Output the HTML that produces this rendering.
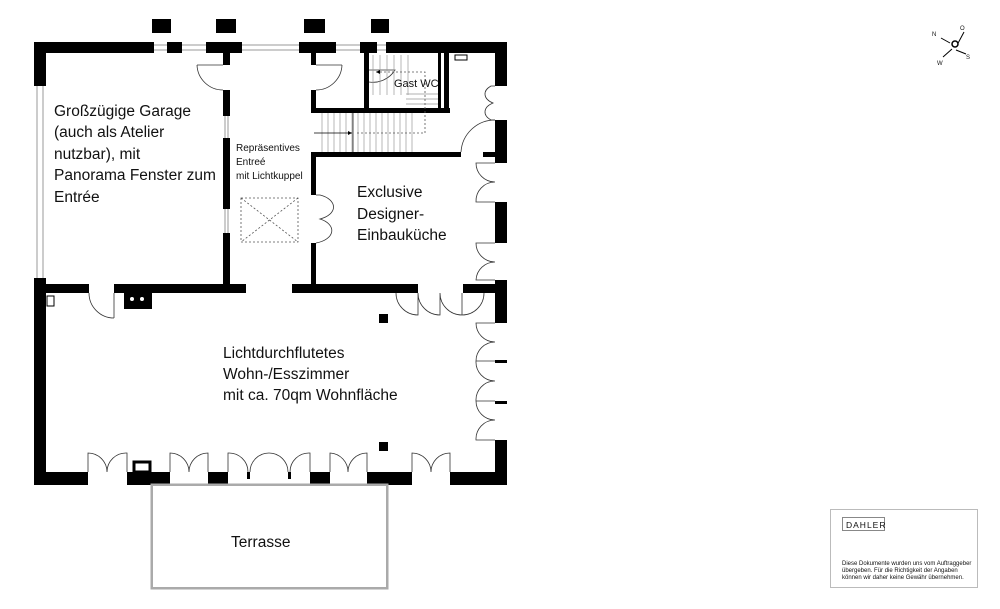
<!DOCTYPE html>
<html><head><meta charset="utf-8"><style>
html,body{margin:0;padding:0;background:#fff;width:1000px;height:609px;overflow:hidden}
svg{display:block}
text{font-family:"Liberation Sans","DejaVu Sans",sans-serif;fill:#111}
</style></head><body>
<svg width="1000" height="609" viewBox="0 0 1000 609" xmlns="http://www.w3.org/2000/svg">
<g fill="#000">
<rect x="152" y="19" width="19" height="14"/><rect x="216" y="19" width="20" height="14"/>
<rect x="304" y="19" width="21" height="14"/><rect x="371" y="19" width="18" height="14"/>
<rect x="34" y="42" width="120" height="11"/><rect x="167" y="42" width="15" height="11"/>
<rect x="206" y="42" width="36" height="11"/><rect x="299" y="42" width="37" height="11"/>
<rect x="360" y="42" width="17" height="11"/><rect x="386" y="42" width="121" height="11"/>
<rect x="34" y="42" width="12" height="44"/><rect x="34" y="278" width="12" height="207"/>
<rect x="495" y="42" width="12" height="44"/><rect x="495" y="120" width="12" height="43"/>
<rect x="495" y="202" width="12" height="41"/><rect x="495" y="280" width="12" height="43"/>
<rect x="495" y="440" width="12" height="45"/>
<rect x="495" y="360" width="12" height="3"/><rect x="495" y="401" width="12" height="3"/>
<rect x="34" y="472" width="54" height="13"/><rect x="127" y="472" width="43" height="13"/>
<rect x="208" y="472" width="20" height="13"/><rect x="310" y="472" width="20" height="13"/>
<rect x="367" y="472" width="45" height="13"/><rect x="450" y="472" width="57" height="13"/>
<rect x="247" y="472" width="3" height="7"/><rect x="288" y="472" width="3" height="7"/>
<rect x="223" y="53" width="7" height="12"/><rect x="223" y="90" width="7" height="26"/>
<rect x="223" y="138" width="7" height="71"/><rect x="223" y="233" width="7" height="60"/>
<rect x="34" y="284" width="55" height="9"/><rect x="114" y="284" width="132" height="9"/>
<rect x="292" y="284" width="126" height="9"/><rect x="463" y="284" width="44" height="9"/>
<rect x="311" y="53" width="5" height="12"/><rect x="311" y="90" width="5" height="23"/>
<rect x="311" y="152" width="5" height="43"/><rect x="311" y="243" width="5" height="45"/>
<rect x="311" y="108" width="139" height="5"/><rect x="311" y="152" width="150" height="5"/>
<rect x="483" y="152" width="12" height="5"/>
<rect x="364" y="53" width="5" height="57"/><rect x="438" y="53" width="3" height="57"/>
<rect x="444" y="53" width="5" height="57"/>
<rect x="379" y="314" width="9" height="9"/><rect x="379" y="442" width="9" height="9"/>
<rect x="124" y="293" width="28" height="16"/>
</g>
<circle cx="132" cy="299" r="2" fill="#fff"/><circle cx="142" cy="299" r="2" fill="#fff"/>
<rect x="134" y="462" width="16" height="10" fill="#fff" stroke="#000" stroke-width="3"/>
<rect x="47" y="296" width="7" height="10" fill="#fff" stroke="#000" stroke-width="1"/>
<rect x="455" y="55" width="12" height="5" fill="#fff" stroke="#000" stroke-width="1"/>
<g stroke="#999" stroke-width="1" fill="none">
<path d="M154 45H167M154 50H167M182 45H206M182 50H206M242 45H299M242 50H299M336 45H360M336 50H360M377 45H386M377 50H386"/>
<path d="M37 86V278M43 86V278M225 116V138M228 116V138M225 209V233M228 209V233"/>
<rect x="152" y="485" width="235" height="103" stroke="#aaa" stroke-width="3"/>
<rect x="153.5" y="486.5" width="232" height="100" stroke="#fff" stroke-width="1"/>
</g>
<g stroke="#333" stroke-width="0.8" fill="none">
<path d="M197 65H223M197 65A26 26 0 0 0 223 90"/>
<path d="M316 65H342M342 65A26 26 0 0 1 316 90"/>
<path d="M369 70H395A26 26 0 0 1 369 82"/>
<path d="M114 293V318M89 293A25 25 0 0 0 114 318"/>
<!-- kitchen doors left side -->
<path d="M316 195H320A22 13 0 0 1 320 219A22 13 0 0 1 316 243"/>
<!-- kitchen bottom double door -->
<path d="M396 293A22 22 0 0 0 418 315V293M440 293V315A22 22 0 0 1 418 293M440 293A22 22 0 0 0 462 315V293M484 293A22 22 0 0 1 462 315"/>
<!-- right wall doors -->
<path d="M495 86H491A19 11 0 0 0 493 103A19 11 0 0 0 491 120H495"/>
<path d="M461 152A34 34 0 0 1 495 120"/>
<path d="M495 163H476A19 19 0 0 0 495 182A19 19 0 0 0 476 202H495"/>
<path d="M495 243H476A19 19 0 0 0 495 262A19 19 0 0 0 476 280H495"/>
<path d="M495 323H476A19 19 0 0 0 495 342A19 19 0 0 0 476 361H495M476 361A19 19 0 0 0 495 381A19 19 0 0 0 476 401H495M476 401A19 19 0 0 0 495 420A19 19 0 0 0 476 440H495"/>
<!-- bottom doors -->
<path d="M88 472V453A19 19 0 0 1 107 472A19 19 0 0 1 127 453V472"/>
<path d="M170 472V453A19 19 0 0 1 189 472A19 19 0 0 1 208 453V472"/>
<path d="M228 472V453A19 19 0 0 1 248 472M250 472A19 19 0 0 1 269 453A19 19 0 0 1 288 472M290 472A19 19 0 0 1 310 453V472"/>
<path d="M330 472V453A19 19 0 0 1 348 472A19 19 0 0 1 367 453V472"/>
<path d="M412 472V453A19 19 0 0 1 431 472A19 19 0 0 1 450 453V472"/>
</g>
<g stroke="#999" stroke-width="0.7" fill="none">
<path d="M322 113V152M328 113V152M334 113V152M340 113V152M346 113V152M352 113V152M358 113V152M364 113V152M370 113V152M376 113V152M382 113V152M388 113V152M394 113V152M400 113V152M406 113V152M412 113V152"/>
<path d="M373 55V95M380 55V95M387 55V95M394 55V95M401 55V95M408 55V95"/>
<path d="M406 94H438M406 99H438M406 104H438"/>
<path d="M353 113V152" stroke="#000"/>
</g>
<g stroke="#555" stroke-width="0.8" fill="none" stroke-dasharray="2,2">
<path d="M376 72H425V133H355"/>
<rect x="241" y="198" width="57" height="44"/>
<path d="M241 198L298 242M298 198L241 242"/>
</g>
<path d="M314 133H352" stroke="#000" stroke-width="0.8"/>
<path d="M352 133l-4-2v4z M376 72l4-2v4z" fill="#000"/>
<g font-size="15.5">
<text x="54" y="116">Großzügige Garage</text>
<text x="54" y="137">(auch als Atelier</text>
<text x="54" y="159">nutzbar), mit</text>
<text x="54" y="180">Panorama Fenster zum</text>
<text x="54" y="202">Entrée</text>
<text x="357" y="197">Exclusive</text>
<text x="357" y="219">Designer-</text>
<text x="357" y="240">Einbauküche</text>
<text x="223" y="358">Lichtdurchflutetes</text>
<text x="223" y="379">Wohn-/Esszimmer</text>
<text x="223" y="400">mit ca. 70qm Wohnfläche</text>
<text x="231" y="547">Terrasse</text>
</g>
<g font-size="10">
<text x="236" y="151">Repräsentives</text>
<text x="236" y="165">Entreé</text>
<text x="236" y="179">mit Lichtkuppel</text>
</g>
<text x="394" y="87" font-size="11">Gast WC</text>
<g font-size="6" font-family="Liberation Serif">
<path d="M941 38L950 43M956 47L964 32M956 50L966 54M952 49L943 57" stroke="#000" stroke-width="1"/>
<circle cx="955" cy="44" r="3" fill="#fff" stroke="#000" stroke-width="1.5"/>
<text x="932" y="36">N</text><text x="960" y="30">O</text><text x="966" y="59">S</text><text x="937" y="65">W</text>
</g>
<rect x="830.5" y="509.5" width="147" height="78" fill="#fff" stroke="#bbb"/>
<rect x="842.5" y="517.5" width="42" height="13" fill="none" stroke="#888"/>
<text x="846" y="528" font-size="8.5" font-family="Liberation Serif" letter-spacing="1">DAHLER</text>
<g font-size="6" font-family="Liberation Serif">
<text x="842" y="565">Diese Dokumente wurden uns vom Auftraggeber</text>
<text x="842" y="572">übergeben. Für die Richtigkeit der Angaben</text>
<text x="842" y="579">können wir daher keine Gewähr übernehmen.</text>
</g>
</svg>
</body></html>
